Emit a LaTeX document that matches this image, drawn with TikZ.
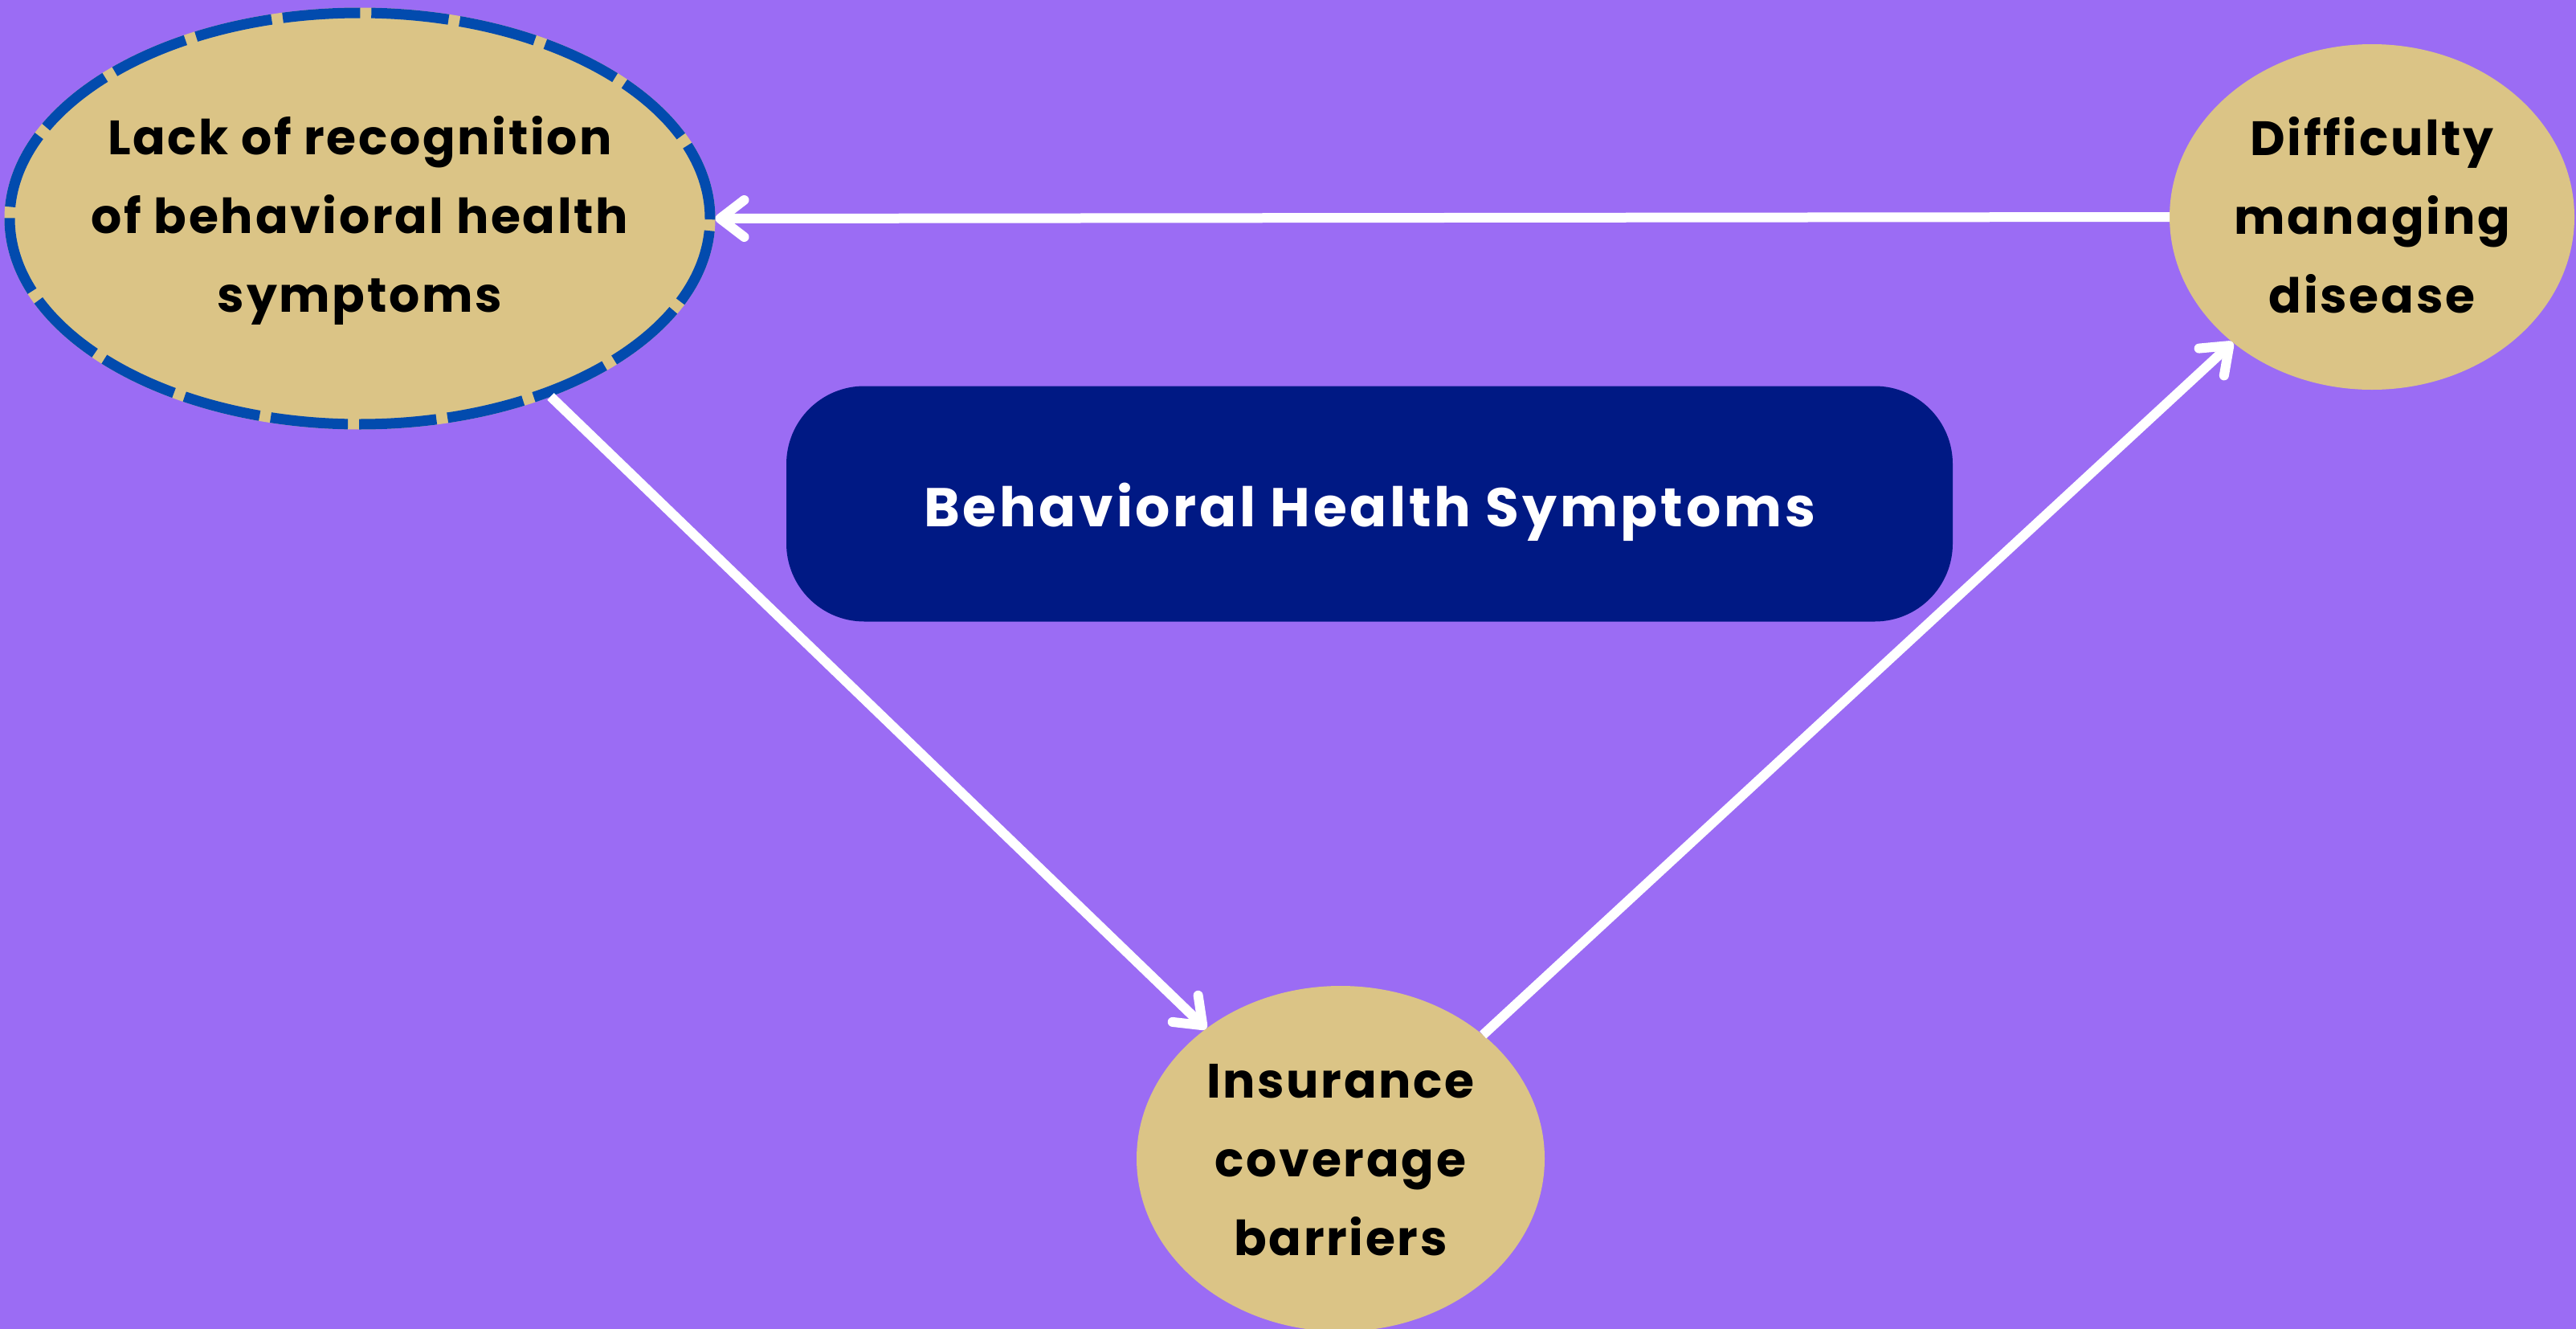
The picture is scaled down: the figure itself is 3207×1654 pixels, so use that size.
\documentclass[tikz,border=0pt]{standalone}
\usepackage{fontspec}
\setmainfont{Poppins}
\usetikzlibrary{shapes.geometric,arrows.meta}
\definecolor{bgpurple}{HTML}{9B6CF4}
\definecolor{tanfill}{HTML}{DBC486}
\definecolor{dashblue}{HTML}{024BAE}
\definecolor{navy}{HTML}{001984}
\begin{document}
\begin{tikzpicture}[x=1pt,y=-1pt,
  bubble/.style={ellipse, fill=tanfill, inner sep=0pt, outer sep=0pt},
  bubbletext/.style={font=\fontsize{60}{98}\selectfont\bfseries\addfontfeature{LetterSpace=4.5}, align=center, text=black, inner sep=0pt},
  flow/.style={draw=white, line width=12pt, -{Straight Barb[length=30pt,width=46pt,round]}}]
\fill[bgpurple] (0,0) rectangle (3207,1654);
\useasboundingbox (0,0) rectangle (3207,1654);
\node[bubble, minimum width=872pt, minimum height=512pt, draw=dashblue, line width=13pt,
      dash pattern=on 96.5pt off 14pt,
      preaction={draw=tanfill, solid, line width=13pt}, outer sep=6.5pt] (lack) at (448,272) {};
\node[bubble, minimum width=504pt, minimum height=430pt] (diff) at (2953,270) {};
\node[bubble, minimum width=508pt, minimum height=430pt] (ins) at (1669,1442) {};
\node[fill=navy, rounded corners=97pt, minimum width=1452pt, minimum height=293pt, inner sep=0pt] (core) at (1705,627) {};
\node[text=white, font=\fontsize{68}{80}\selectfont\bfseries\addfontfeature{LetterSpace=5.5}, inner sep=0pt] (coreT) at (1705,637) {Behavioral Health Symptoms};
\node[bubbletext] (lackT) at (448,274) {Lack of recognition\\of behavioral health\\symptoms};
\node[bubbletext] (diffT) at (2953,268) {Difficulty\\managing\\disease};
\node[bubbletext] (insT) at (1669,1444) {Insurance\\coverage\\barriers};
\draw[flow] (diff.west) -- (lack.east);
\draw[flow] (lack.-43.6) -- (ins.136.2);
\draw[flow] (ins.41.9) -- (diff.222.6);
\end{tikzpicture}
\end{document}
